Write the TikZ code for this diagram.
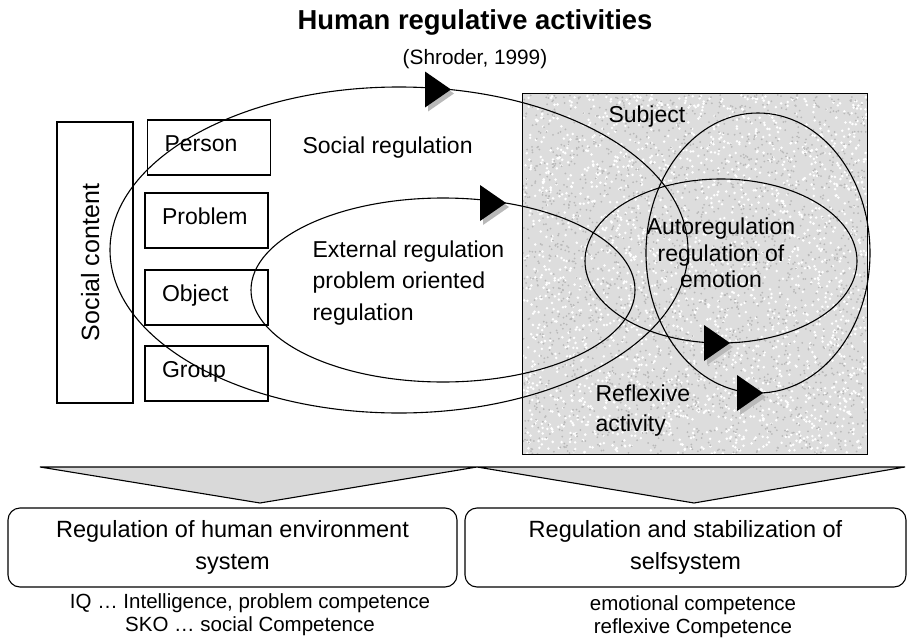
\documentclass[tikz,border=0pt]{standalone}
\usepackage{fontspec}
\setmainfont{Liberation Sans}
\newcommand{\sizefont}[2]{\fontsize{#1}{#2}\selectfont}
\tikzset{
    flowtip/.pic={
        \fill[gray!55] (-23,-14) -- (3,4) -- (-23,22) -- cycle;
        \fill[black] (-26,-18) -- (0,0) -- (-26,18) -- cycle;
    }
}

\begin{document}
\begin{tikzpicture}[x=1pt, y=-1pt, line width=1.1pt,
    itembox/.style={draw, minimum width=123pt, minimum height=55pt, text width=89pt,
        inner xsep=17pt, inner ysep=0pt, text height=17pt, text depth=10pt,
        align=left, font=\sizefont{23}{28}},
    outbox/.style={draw, rounded corners=12pt, minimum height=79pt, align=center,
        font=\sizefont{23.5}{31.7}},
    plaintext/.style={font=\sizefont{23}{31.5}, inner sep=0pt},
    notetext/.style={align=center, inner sep=0pt, font=\sizefont{20.5}{22.7}}
]
    \useasboundingbox (0,0) rectangle (907,642);

    % Title
    \node[anchor=base, font=\sizefont{27.4}{32}\bfseries] (title) at (475,30) {Human regulative activities};
    \node[anchor=base, font=\sizefont{20.8}{25}] (source) at (475,65) {(Shroder, 1999)};

    % Subject field with grainy fill
    \node[fill=gray!27, minimum width=344pt, minimum height=360pt, inner sep=0pt] (subjbox) at (695,274) {};
    \begin{scope}
        \clip (subjbox.south west) rectangle (subjbox.north east);
        \pgfmathsetseed{41}
        \foreach \i in {1,...,2200} {\fill[white] (523+344*rnd,94+360*rnd) circle (1.4);}
        \foreach \i in {1,...,2500} {\fill[gray!55] (523+344*rnd,94+360*rnd) circle (1.0);}
    \end{scope}
    \draw (subjbox.south west) rectangle (subjbox.north east);

    % Social content and its four items
    \node[draw, rotate=90, minimum width=281pt, minimum height=76pt, text height=18pt, text depth=10pt,
        font=\sizefont{25}{30}] (social) at (95,262.5) {Social content};
    \node[itembox] (person) at (209,147.5) {Person};
    \node[itembox] (problem) at (206.5,220.5) {Problem};
    \node[itembox] (object) at (206.5,297.5) {Object};
    \node[itembox] (group) at (206.5,373.5) {Group};

    % Regulation cycles
    \draw (399,250) ellipse [x radius=289, y radius=163];
    \draw (443,290) ellipse [x radius=192, y radius=92];
    \draw (721,261) ellipse [x radius=136, y radius=82];
    \draw (758,253) ellipse [x radius=112, y radius=140];
    \pic at (451,89.5) {flowtip};
    \pic at (506,203) {flowtip};
    \pic at (730,343) {flowtip};
    \pic at (763,393) {flowtip};

    % Labels of the cycles
    \node[plaintext, anchor=base west] (socreg) at (302,153) {Social regulation};
    \node[plaintext, anchor=west, align=left] (extreg) at (312,283) {External regulation\\problem oriented\\regulation};
    \node[plaintext, anchor=base west] (subject) at (608,122) {Subject};
    \node[plaintext, align=center, font=\sizefont{23}{26.3}] (autoreg) at (721,253) {Autoregulation\\regulation of\\emotion};
    \node[plaintext, anchor=west, align=left, font=\sizefont{23}{30}] (reflex) at (595,411) {Reflexive\\activity};

    % Two funnels into the outcomes
    \filldraw[fill=gray!30] (40,467) -- (477,467) -- (260,503) -- cycle;
    \filldraw[fill=gray!30] (477,467) -- (905,467) -- (694,503) -- cycle;

    % Outcomes
    \node[outbox, minimum width=449pt] (envbox) at (232.5,547.5) {Regulation of human environment\\system};
    \node[outbox, minimum width=441pt] (selfbox) at (685.5,547.5) {Regulation and stabilization of\\selfsystem};
    \node[notetext] (envnote) at (250,614.6) {IQ … Intelligence, problem competence\\SKO … social Competence};
    \node[notetext] (selfnote) at (693,616.5) {emotional competence\\reflexive Competence};
\end{tikzpicture}
\end{document}
